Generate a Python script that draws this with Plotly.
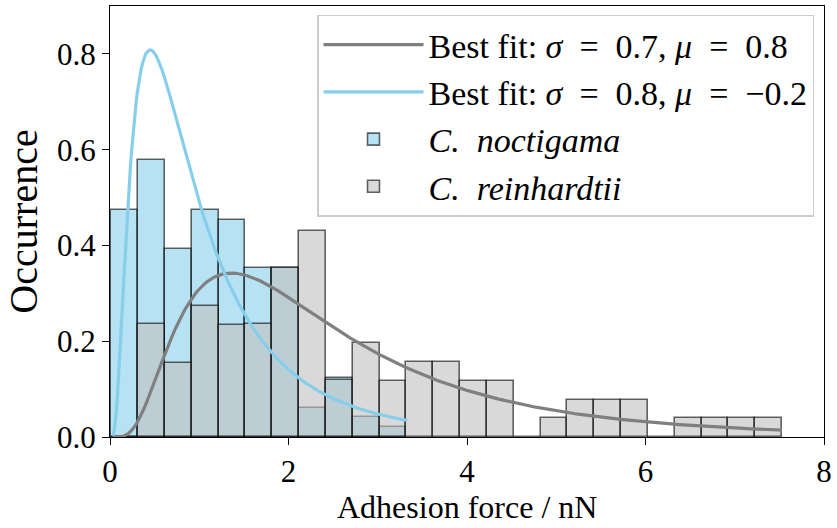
import numpy as np
import plotly.graph_objects as go

# ---- data ----
bin_start = 0.013
bin_width = 0.3007
# normalized histogram heights (density) per bin
noctigama_heights = [0.475, 0.578, 0.392, 0.475, 0.454, 0.352, 0.352, 0.060, 0.124, 0.042, 0.021]
reinhardtii_heights = [0.0, 0.235, 0.155, 0.274, 0.233, 0.235, 0.352, 0.431, 0.118, 0.196, 0.117,
                       0.156, 0.156, 0.117, 0.117, 0.0, 0.039, 0.078, 0.078, 0.078, 0.0,
                       0.039, 0.039, 0.039, 0.039]
# log-normal fit parameters
fit_rein_sigma, fit_rein_mu = 0.68, 0.77
fit_noct_sigma, fit_noct_mu = 0.798, -0.162
fit_rein_range = [0.03, 7.53]
fit_noct_range = [0.03, 3.33]
x_ticks = [0, 2, 4, 6, 8]
y_ticks = [0.0, 0.2, 0.4, 0.6, 0.8]


def lognorm_pdf(x, s, m):
    return np.exp(-(np.log(x) - m) ** 2 / (2 * s ** 2)) / (x * s * np.sqrt(2 * np.pi))


def centers(n):
    return [bin_start + (i + 0.5) * bin_width for i in range(n)]


FONT = "Liberation Serif"
SP = "&nbsp;"
fig = go.Figure()

fig.add_trace(go.Bar(
    x=centers(len(noctigama_heights)), y=noctigama_heights, width=bin_width,
    marker=dict(color="rgba(135,206,235,0.6)", line=dict(color="rgba(0,0,0,0.6)", width=1.6)),
    name="<i>C.&nbsp;&nbsp;noctigama</i>", legendrank=3))
fig.add_trace(go.Bar(
    x=centers(len(reinhardtii_heights)), y=reinhardtii_heights, width=bin_width,
    marker=dict(color="rgba(192,192,192,0.6)", line=dict(color="rgba(0,0,0,0.6)", width=1.6)),
    name="<i>C.&nbsp;&nbsp;reinhardtii</i>", legendrank=4))

xr = np.linspace(fit_rein_range[0], fit_rein_range[1], 300)
fig.add_trace(go.Scatter(
    x=xr, y=lognorm_pdf(xr, fit_rein_sigma, fit_rein_mu), mode="lines",
    line=dict(color="#808080", width=3.2),
    name=f"Best fit:{SP}<i>σ</i>{SP*2}={SP*2}0.7,{SP}<i>μ</i>{SP*2}={SP*2}0.8", legendrank=1))
xn = np.linspace(fit_noct_range[0], fit_noct_range[1], 300)
fig.add_trace(go.Scatter(
    x=xn, y=lognorm_pdf(xn, fit_noct_sigma, fit_noct_mu), mode="lines",
    line=dict(color="#87CEEB", width=3.2),
    name=f"Best fit:{SP}<i>σ</i>{SP*2}={SP*2}0.8,{SP}<i>μ</i>{SP*2}={SP*2}−0.2", legendrank=2))

axis_common = dict(
    showline=True, linecolor="black", linewidth=1.3, mirror=True,
    ticks="outside", ticklen=7, tickwidth=1.3, tickcolor="black",
    showgrid=False, zeroline=False,
    tickfont=dict(family=FONT, size=31, color="black"),
)

fig.update_layout(
    width=837, height=528,
    margin=dict(l=110, r=9, t=5, b=91),
    plot_bgcolor="white", paper_bgcolor="white",
    barmode="overlay", bargap=0,
    font=dict(family=FONT, color="black"),
    showlegend=True,
    legend=dict(
        x=0.986, y=0.98, xanchor="right", yanchor="top",
        bgcolor="rgba(255,255,255,0.8)", bordercolor="rgb(204,204,204)", borderwidth=1.5,
        font=dict(family=FONT, size=34, color="black"),
        traceorder="normal", itemwidth=100, tracegroupgap=0,
    ),
    xaxis=dict(axis_common, range=[0, 8], tickvals=x_ticks, ticktext=[str(v) for v in x_ticks]),
    yaxis=dict(axis_common, range=[0, 0.9], tickvals=y_ticks, ticktext=[f"{v:.1f}" for v in y_ticks],
               title=dict(text="Occurrence", font=dict(family=FONT, size=40), standoff=6)),
    annotations=[dict(text="Adhesion force / nN", xref="paper", yref="paper", x=0.5, y=-0.163,
                      xanchor="center", yanchor="middle", showarrow=False, borderpad=0,
                      font=dict(family=FONT, size=32, color="black"))],
)

fig.write_html("out.html")
